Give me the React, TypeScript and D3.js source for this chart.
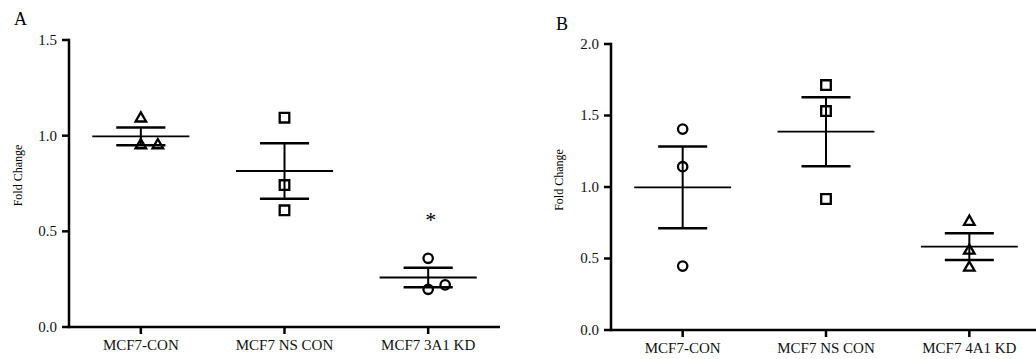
import React from "react";
import * as d3 from "d3";

// ---------- Data ----------
const panelACategories = ["MCF7-CON", "MCF7 NS CON", "MCF7 3A1 KD"];
const panelAConValues = [1.09, 0.95, 0.95];
const panelANsConValues = [1.094, 0.742, 0.61];
const panelAKdValues = [0.359, 0.197, 0.22];
const panelATicks = [0, 0.5, 1.0, 1.5];
const panelAMax = 1.5;
const panelAMarkers = ["triangle", "square", "circle"];
const panelASignificance = [{ category: "MCF7 3A1 KD", label: "*" }];

const panelBCategories = ["MCF7-CON", "MCF7 NS CON", "MCF7 4A1 KD"];
const panelBConValues = [1.405, 1.142, 0.447];
const panelBNsConValues = [1.713, 1.531, 0.916];
const panelBKdValues = [0.757, 0.555, 0.436];
const panelBTicks = [0, 0.5, 1.0, 1.5, 2.0];
const panelBMax = 2.0;
const panelBMarkers = ["circle", "square", "triangle"];
const panelBSignificance: { category: string; label: string }[] = [];

const yAxisTitle = "Fold Change";

// ---------- Drawing ----------
const FONT = '"Liberation Serif", "Times New Roman", Times, "DejaVu Serif", serif';

function markerPath(kind: string) {
  if (kind === "triangle") return d3.symbol(d3.symbolTriangle, 48)() as string;
  if (kind === "square") return d3.symbol(d3.symbolSquare, 92)() as string;
  return d3.symbol(d3.symbolCircle, Math.PI * 4.7 * 4.7)() as string;
}

type PanelProps = {
  letter: string;
  letterX: number;
  letterY: number;
  axisX: number;
  axisEndX: number;
  yTop: number;
  yBottom: number;
  yMax: number;
  ticks: number[];
  categories: string[];
  series: number[][];
  markers: string[];
  significance: { category: string; label: string }[];
  titleX: number;
  titleY: number;
};

const txt = (size: number, fill = "#000") => ({ fontFamily: FONT, fontSize: size + "px", fill });

function Panel(p: PanelProps) {
  const y = d3.scaleLinear().domain([0, p.yMax]).range([p.yBottom, p.yTop]);
  const x = d3.scaleBand().domain(p.categories).range([p.axisX, p.axisEndX]).padding(0);
  const bw = x.bandwidth();
  const fmt = d3.format(".1f");
  const meanHalf = bw * 0.338;
  const capHalf = bw * 0.171;

  return (
    <g>
      <text x={p.letterX} y={p.letterY} style={txt(18)}>
        {p.letter}
      </text>
      <text
        transform={`translate(${p.titleX},${p.titleY}) rotate(-90)`}
        textAnchor="middle"
        style={txt(12)}
      >
        {yAxisTitle}
      </text>
      {/* y axis */}
      <line x1={p.axisX} x2={p.axisX} y1={p.yBottom + 1.25} y2={p.yTop - 1.25} stroke="#000" strokeWidth={2.5} />
      {p.ticks.map((t) => (
        <g key={t}>
          <line x1={p.axisX - 7} x2={p.axisX} y1={y(t)} y2={y(t)} stroke="#000" strokeWidth={2.5} />
          <text x={p.axisX - 12} y={y(t)} dy="0.33em" textAnchor="end" style={txt(15, "#111")}>
            {fmt(t)}
          </text>
        </g>
      ))}
      {/* x axis */}
      <line x1={p.axisX} x2={p.axisEndX} y1={p.yBottom} y2={p.yBottom} stroke="#000" strokeWidth={2.5} />
      {p.categories.map((c) => {
        const cx = (x(c) as number) + bw / 2;
        return (
          <g key={c}>
            <line x1={cx} x2={cx} y1={p.yBottom} y2={p.yBottom + 7} stroke="#000" strokeWidth={2.5} />
            <text x={cx} y={p.yBottom + 23} textAnchor="middle" style={txt(15, "#111")}>
              {c}
            </text>
          </g>
        );
      })}
      {/* series */}
      {p.series.map((vals, i) => {
        const c = p.categories[i];
        const cx = (x(c) as number) + bw / 2;
        const mean = d3.mean(vals) as number;
        const sem = (d3.deviation(vals) as number) / Math.sqrt(vals.length);
        const placed: { py: number; dx: number }[] = [];
        vals.forEach((v) => {
          const py = y(v);
          let dx = 0;
          while (placed.some((q) => q.dx === dx && Math.abs(q.py - py) < 11)) dx += 17;
          placed.push({ py, dx });
        });
        const path = markerPath(p.markers[i]);
        const sig = p.significance.find((s) => s.category === c);
        return (
          <g key={c}>
            {placed.map((q, j) => (
              <path
                key={j}
                d={path}
                transform={`translate(${cx + q.dx},${q.py})`}
                fill="none"
                stroke="#000"
                strokeWidth={2.3}
              />
            ))}
            <line x1={cx} x2={cx} y1={y(mean - sem)} y2={y(mean + sem)} stroke="#000" strokeWidth={2} />
            <line x1={cx - capHalf} x2={cx + capHalf} y1={y(mean + sem)} y2={y(mean + sem)} stroke="#000" strokeWidth={2.5} />
            <line x1={cx - capHalf} x2={cx + capHalf} y1={y(mean - sem)} y2={y(mean - sem)} stroke="#000" strokeWidth={2.5} />
            <line x1={cx - meanHalf} x2={cx + meanHalf} y1={y(mean)} y2={y(mean)} stroke="#000" strokeWidth={1.8} />
            {sig && (
              <text
                x={cx + 2.5}
                y={y(d3.max(vals) as number) - 31}
                textAnchor="middle"
                style={txt(22)}
              >
                {sig.label}
              </text>
            )}
          </g>
        );
      })}
    </g>
  );
}

export default function App() {
  return (
    <svg
      width={1036}
      height={359}
      style={{ position: "absolute", left: 0, top: 0, background: "#fff" }}
    >
      <rect width={1036} height={359} fill="#fff" />
      <Panel
        letter="A"
        letterX={14}
        letterY={25}
        axisX={69}
        axisEndX={500}
        yTop={40}
        yBottom={327}
        yMax={panelAMax}
        ticks={panelATicks}
        categories={panelACategories}
        series={[panelAConValues, panelANsConValues, panelAKdValues]}
        markers={panelAMarkers}
        significance={panelASignificance}
        titleX={21.5}
        titleY={175.5}
      />
      <Panel
        letter="B"
        letterX={556}
        letterY={30}
        axisX={611}
        axisEndX={1041}
        yTop={44}
        yBottom={330}
        yMax={panelBMax}
        ticks={panelBTicks}
        categories={panelBCategories}
        series={[panelBConValues, panelBNsConValues, panelBKdValues]}
        markers={panelBMarkers}
        significance={panelBSignificance}
        titleX={563}
        titleY={180}
      />
    </svg>
  );
}
